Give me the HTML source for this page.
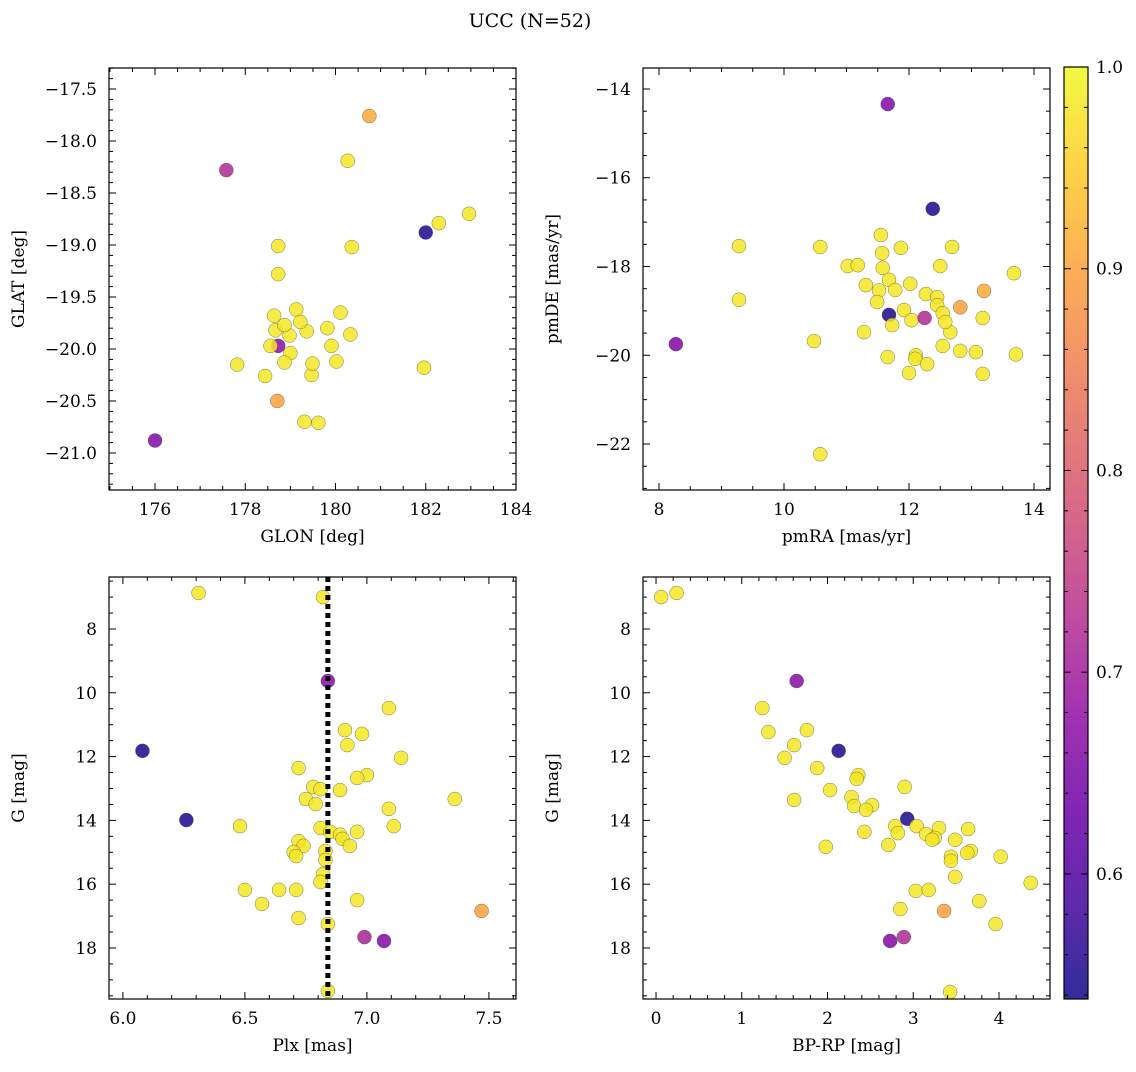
<!DOCTYPE html>
<html><head><meta charset="utf-8"><style>
body{margin:0;background:#fff;}
svg text{font-family:"DejaVu Serif","Liberation Serif",serif;fill:#000;}
</style></head><body>
<svg id="fig" width="1136" height="1067" xmlns="http://www.w3.org/2000/svg">
<text x="530" y="27" font-size="19" text-anchor="middle">UCC (N=52)</text>
</svg>
<script>
// Panel 1: GLON vs GLAT
const glonVals=[180.75,177.58,180.27,182.96,182.29,182.0,180.36,178.73,178.73,176.0,178.71,178.44,177.82,181.96,179.31,179.62,179.47,179.49,180.02,179.91,179.82,179.36,179.13,179.22,178.98,179.0,178.87,178.73,178.56,178.67,178.64,180.11,180.33,178.87];
const glatVals=[-17.76,-18.28,-18.19,-18.70,-18.79,-18.88,-19.02,-19.01,-19.28,-20.88,-20.5,-20.26,-20.15,-20.18,-20.70,-20.71,-20.25,-20.14,-20.12,-19.97,-19.80,-19.83,-19.62,-19.74,-19.87,-20.04,-20.13,-19.97,-19.97,-19.82,-19.68,-19.65,-19.86,-19.77];
const p1Prob=[0.91,0.72,0.98,0.98,0.98,0.55,0.98,0.98,0.98,0.66,0.9,0.98,0.98,0.98,0.98,0.98,0.98,0.98,0.98,0.98,0.98,0.98,0.98,0.98,0.98,0.98,0.98,0.67,0.98,0.98,0.98,0.98,0.98,0.98];
// Panel 2: pmRA vs pmDE
const pmraVals=[11.66,12.38,9.28,10.58,11.55,11.02,11.18,11.87,12.69,11.57,11.58,11.68,12.50,13.68,11.31,11.78,12.02,12.27,12.45,13.2,12.82,9.28,8.27,11.52,11.68,11.49,11.73,11.92,12.04,12.25,12.45,12.54,12.66,12.58,12.54,13.18,12.82,13.07,13.71,13.18,11.28,10.48,11.66,12.11,12.10,12.0,12.29,10.58];
const pmdeVals=[-14.34,-16.70,-17.54,-17.56,-17.29,-17.99,-17.97,-17.58,-17.56,-17.70,-18.03,-18.30,-17.99,-18.15,-18.42,-18.53,-18.39,-18.62,-18.69,-18.55,-18.92,-18.75,-19.75,-18.54,-19.09,-18.8,-19.32,-18.98,-19.21,-19.16,-18.87,-19.05,-19.48,-19.25,-19.79,-19.16,-19.90,-19.93,-19.98,-20.42,-19.48,-19.68,-20.04,-20.0,-20.08,-20.40,-20.2,-22.23];
const p2Prob=[0.66,0.55,0.98,0.98,0.98,0.98,0.98,0.98,0.98,0.98,0.98,0.98,0.98,0.98,0.98,0.98,0.98,0.98,0.98,0.91,0.9,0.98,0.66,0.98,0.55,0.98,0.98,0.98,0.98,0.72,0.98,0.98,0.98,0.98,0.98,0.98,0.98,0.98,0.98,0.98,0.98,0.98,0.98,0.98,0.98,0.98,0.98,0.98];
// Panel 3: Plx vs G
const plxVals=[6.31,6.82,6.84,6.08,6.26,7.09,6.91,6.98,6.92,7.14,6.72,7.0,6.96,6.78,6.81,6.75,6.79,6.89,7.36,7.09,7.11,6.81,6.48,6.85,6.89,6.96,6.90,6.93,6.72,6.74,6.70,6.71,6.83,6.83,6.82,6.81,6.5,6.64,6.71,6.96,6.57,6.72,6.84,7.47,6.99,7.07,6.84];
const gVals=[6.87,7.0,9.63,11.82,13.99,10.48,11.17,11.29,11.64,12.04,12.36,12.58,12.67,12.95,13.02,13.33,13.49,13.05,13.33,13.64,14.18,14.24,14.18,14.36,14.45,14.36,14.58,14.80,14.65,14.80,14.99,15.12,14.96,15.24,15.68,15.93,16.18,16.18,16.18,16.5,16.62,17.06,17.25,16.84,17.66,17.78,19.35];
const p3Prob=[0.98,0.98,0.67,0.55,0.55,0.98,0.98,0.98,0.98,0.98,0.98,0.98,0.98,0.98,0.98,0.98,0.98,0.98,0.98,0.98,0.98,0.98,0.98,0.98,0.98,0.98,0.98,0.98,0.98,0.98,0.98,0.98,0.98,0.98,0.98,0.98,0.98,0.98,0.98,0.98,0.98,0.98,0.98,0.9,0.71,0.66,0.98];
const plxMedian=6.84;
// Panel 4: BP-RP vs G
const bprpVals=[0.06,0.24,1.64,1.24,1.31,1.76,1.61,2.13,1.50,1.88,2.36,2.34,2.03,2.28,2.90,2.31,2.52,1.61,2.45,2.93,2.43,2.79,3.04,2.82,3.15,3.30,3.64,3.25,3.22,3.49,2.71,1.98,3.67,3.63,4.02,3.44,3.44,3.49,4.37,3.03,3.18,3.77,2.85,3.36,3.96,2.73,2.89,3.43];
const g4Vals=[7.0,6.87,9.63,10.48,11.23,11.17,11.64,11.82,12.04,12.36,12.58,12.70,13.05,13.27,12.95,13.55,13.52,13.36,13.67,13.95,14.36,14.18,14.18,14.40,14.43,14.24,14.27,14.55,14.61,14.61,14.77,14.83,14.96,15.02,15.14,15.14,15.27,15.77,15.96,16.21,16.18,16.53,16.78,16.84,17.25,17.78,17.66,19.38];
const p4Prob=[0.98,0.98,0.67,0.98,0.98,0.98,0.98,0.55,0.98,0.98,0.98,0.98,0.98,0.98,0.98,0.98,0.98,0.98,0.98,0.55,0.98,0.98,0.98,0.98,0.98,0.98,0.98,0.98,0.98,0.98,0.98,0.98,0.98,0.98,0.98,0.98,0.98,0.98,0.98,0.98,0.98,0.98,0.98,0.9,0.98,0.66,0.72,0.98];
const cMin=0.538, cMax=1.0;
const cbTicks=[0.6,0.7,0.8,0.9,1.0];

const NS='http://www.w3.org/2000/svg';
const svg=document.getElementById('fig');
const plasma=['#0d0887','#41049d','#6a00a8','#8f0da4','#b12a90','#cc4778','#e16462','#f2844b','#fca636','#fcce25','#f0f921'];
function hex(h){return [1,3,5].map(i=>parseInt(h.substr(i,2),16));}
function cmap(v){let t=(v-cMin)/(cMax-cMin);t=Math.max(0,Math.min(1,t));const f=t*10,i=Math.min(9,Math.floor(f)),r=f-i;const a=hex(plasma[i]),b=hex(plasma[i+1]);return 'rgb('+a.map((x,k)=>Math.round(x+(b[k]-x)*r)).join(',')+')';}
function el(tag,attrs,parent){const e=document.createElementNS(NS,tag);for(const k in attrs)e.setAttribute(k,attrs[k]);(parent||svg).appendChild(e);return e;}
function fmt(v,d){return (v<0?'\u2212':'')+Math.abs(v).toFixed(d);}

function panel(name,box,xr,yr,xMaj,xMin,yMaj,yMin,xd,yd,xs,ys,cs,xlabel,ylabel,invertY){
  const [L,T,R,B]=box;
  const g=el('g',{});  
  const sx=v=>L+(v-xr[0])/(xr[1]-xr[0])*(R-L);
  const sy=v=>invertY? T+(v-yr[0])/(yr[1]-yr[0])*(B-T) : B-(v-yr[0])/(yr[1]-yr[0])*(B-T);
  const clip=el('clipPath',{id:name+'-clip'},g); el('rect',{x:L,y:T,width:R-L,height:B-T},clip);
  const pts=el('g',{'clip-path':'url(#'+name+'-clip)'},g);
   
  for(let i=0;i<xs.length;i++){
    const c=el('circle',{cx:sx(xs[i]),cy:sy(ys[i]),r:7,fill:cmap(cs[i]),'fill-opacity':0.85,stroke:'#444','stroke-width':0.5,'stroke-opacity':0.7},pts);
    
    
  }
  const fr=el('rect',{x:L,y:T,width:R-L,height:B-T,fill:'none',stroke:'#000','stroke-width':1.2},g);
   
  const eps=1e-6;
  for(let v=Math.ceil(xr[0]/xMin)*xMin;v<=xr[1]+eps;v+=xMin){const x=sx(v);const maj=Math.abs(v/xMaj-Math.round(v/xMaj))<1e-4;const len=maj?7:4;
    el('line',{x1:x,x2:x,y1:B,y2:B-len,stroke:'#000','stroke-width':1},g);el('line',{x1:x,x2:x,y1:T,y2:T+len,stroke:'#000','stroke-width':1},g);
    if(maj){const t=el('text',{x:x,y:B+25,'font-size':17,'text-anchor':'middle'},g);t.textContent=fmt(Math.round(v/xMin)*xMin,xd);}}
  for(let v=Math.ceil(yr[0]/yMin)*yMin;v<=yr[1]+eps;v+=yMin){const y=sy(v);const maj=Math.abs(v/yMaj-Math.round(v/yMaj))<1e-4;const len=maj?7:4;
    el('line',{x1:L,x2:L+len,y1:y,y2:y,stroke:'#000','stroke-width':1},g);el('line',{x1:R,x2:R-len,y1:y,y2:y,stroke:'#000','stroke-width':1},g);
    if(maj){const t=el('text',{x:L-12,y:y+6,'font-size':17,'text-anchor':'end'},g);t.textContent=fmt(Math.round(v/yMin)*yMin,yd);}}
  const xl=el('text',{x:(L+R)/2,y:B+52,'font-size':17,'text-anchor':'middle'},g);xl.textContent=xlabel;
  
  const yl=el('text',{x:0,y:0,'font-size':17,'text-anchor':'middle',transform:'translate('+(L-85)+','+((T+B)/2)+') rotate(-90)'},g);yl.textContent=ylabel;
  
  return {sx,sy,g};
}
panel('glon-glat-panel',[109,68,516,490],[174.98,184.0],[-21.356,-17.298],2,0.5,0.5,0.1,0,1,glonVals,glatVals,p1Prob,'GLON [deg]','GLAT [deg]',false);
panel('pmra-pmde-panel',[643,68,1050,490],[7.744,14.256],[-23.036,-13.527],2,0.5,2,0.5,0,0,pmraVals,pmdeVals,p2Prob,'pmRA [mas/yr]','pmDE [mas/yr]',false);
const p3=panel('plx-g-panel',[109,577,516,999],[5.943,7.611],[6.37,19.60],0.5,0.1,2,0.5,1,0,plxVals,gVals,p3Prob,'Plx [mas]','G [mag]',true);
const ml=el('line',{x1:p3.sx(plxMedian),x2:p3.sx(plxMedian),y1:577,y2:999,stroke:'#000','stroke-width':5,'stroke-dasharray':'5,4'},p3.g);

panel('bprp-g-panel',[643,577,1050,999],[-0.152,4.595],[6.37,19.60],1,0.2,2,0.5,0,0,bprpVals,g4Vals,p4Prob,'BP-RP [mag]','G [mag]',true);

// Colorbar
const cb=el('g',{});
const defs=el('defs',{},cb);const lg=el('linearGradient',{id:'cbg',x1:0,y1:1,x2:0,y2:0},defs);
plasma.forEach((c,i)=>el('stop',{offset:i/10,'stop-color':c,'stop-opacity':0.85},lg));
const CL=1064,CR=1088,CT=67,CB=999;
el('rect',{x:CL,y:CT,width:CR-CL,height:CB-CT,fill:'url(#cbg)',stroke:'#000','stroke-width':1.2},cb);
const cy=v=>CB-(v-cMin)/(cMax-cMin)*(CB-CT);
for(let v=0.54;v<=1.0001;v+=0.02){const y=cy(v);const maj=Math.abs(v*10-Math.round(v*10))<1e-4;
  el('line',{x1:CR,x2:CR-(maj?7:4),y1:y,y2:y,stroke:'#000','stroke-width':1},cb);el('line',{x1:CL,x2:CL+(maj?7:4),y1:y,y2:y,stroke:'#000','stroke-width':1},cb);}
cbTicks.forEach(v=>{const t=el('text',{x:CR+8,y:cy(v)+6,'font-size':17},cb);t.textContent=v.toFixed(1);});
</script>
</body></html>
